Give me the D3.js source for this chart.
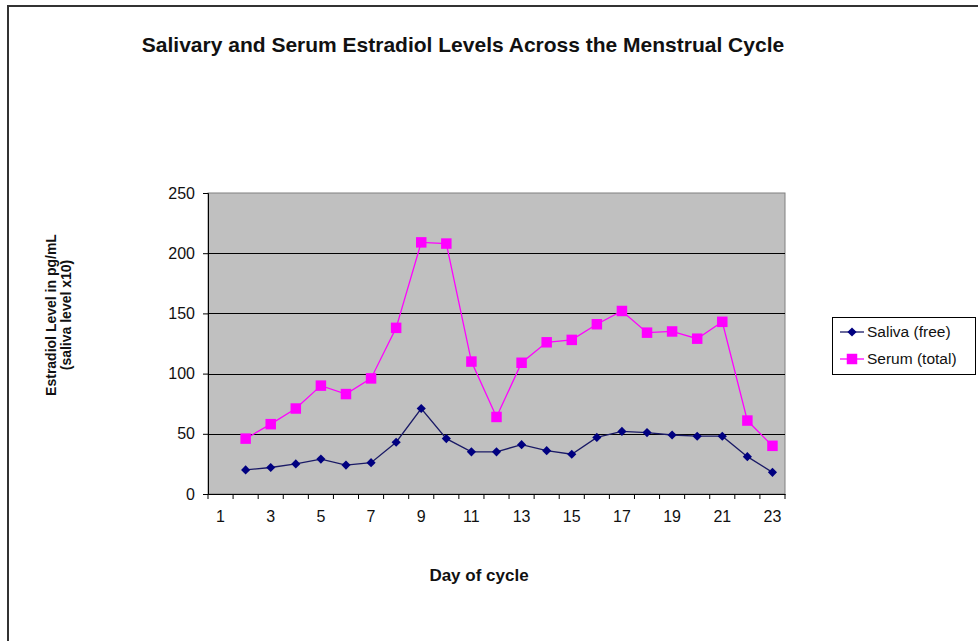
<!DOCTYPE html>
<html>
<head>
<meta charset="utf-8">
<script src="https://cdnjs.cloudflare.com/ajax/libs/d3/7.8.5/d3.min.js"></script>
<style>
  body { margin: 0; background: #fff; }
  svg { display: block; font-family: "Liberation Sans", Arial, sans-serif; }
</style>
</head>
<body>
<div id="chart"></div>
<script>
// data
var days = d3.range(1, 24);               // category axis 1..23
var dataDays = [2,3,4,5,6,7,8,9,10,11,12,13,14,15,16,17,18,19,20,21,22,23];
var saliva = [20,22,25,29,24,26,43,71,46,35,35,41,36,33,47,52,51,49,48,48,31,18];
var serum  = [46,58,71,90,83,96,138,209,208,110,64,109,126,128,141,152,134,135,129,143,61,40];
var yTicks = [0,50,100,150,200,250];

var W = 978, H = 641;
var plot = {left: 208, right: 785, top: 193, bottom: 494};

var svg = d3.select("#chart").append("svg")
  .attr("width", W).attr("height", H);

// outer chart frame (only top/left visible in reference)
svg.append("path")
  .attr("d", "M8,660 L8,6 L990,6")
  .attr("fill", "none").attr("stroke", "#333").attr("stroke-width", 2);

var x = d3.scaleBand().domain(days).range([plot.left, plot.right]).padding(0);
var y = d3.scaleLinear().domain([0, 250]).range([plot.bottom, plot.top]);

// plot area
svg.append("rect")
  .attr("x", plot.left).attr("y", plot.top)
  .attr("width", plot.right - plot.left).attr("height", plot.bottom - plot.top)
  .attr("fill", "#c0c0c0").attr("stroke", "#808080").attr("stroke-width", 1);

// gridlines
svg.append("g").selectAll("line")
  .data(yTicks.filter(function(d) { return d > 0 && d < 250; }))
  .enter().append("line")
  .attr("x1", plot.left).attr("x2", plot.right)
  .attr("y1", function(d) { return Math.round(y(d)) + 0.5; })
  .attr("y2", function(d) { return Math.round(y(d)) + 0.5; })
  .attr("stroke", "#000").attr("stroke-width", 1.2);

// y axis
var yAxis = svg.append("g")
  .attr("transform", "translate(" + plot.left + ",0)")
  .call(d3.axisLeft(y).tickValues(yTicks).tickSize(5).tickPadding(8));
yAxis.select(".domain").attr("stroke", "#000");
yAxis.selectAll("text").attr("font-size", 16).attr("fill", "#111")
  .attr("font-family", "Liberation Sans, Arial, sans-serif");

// x axis: labels centred on categories, ticks on boundaries
var xAxis = svg.append("g")
  .attr("transform", "translate(0," + plot.bottom + ")")
  .call(d3.axisBottom(x).tickSize(0).tickPadding(17)
    .tickFormat(function(d) { return d % 2 === 1 ? d : ""; }));
xAxis.select(".domain").attr("stroke", "#000");
xAxis.selectAll("text").attr("font-size", 16).attr("fill", "#111")
  .attr("font-family", "Liberation Sans, Arial, sans-serif");
xAxis.selectAll(".bound")
  .data(days.concat([24]))
  .enter().append("line")
  .attr("class", "bound")
  .attr("x1", function(d) { return d <= 23 ? x(d) : plot.right; })
  .attr("x2", function(d) { return d <= 23 ? x(d) : plot.right; })
  .attr("y1", 0).attr("y2", 5)
  .attr("stroke", "#000");

var cx = function(d) { return x(d) + x.bandwidth() / 2; };

// lines
var series = [
  {name: "Saliva (free)", values: saliva, color: "#000080", line: "#1a1a66", shape: d3.symbolSquare, size: 42, rot: 45},
  {name: "Serum (total)", values: serum, color: "#ff00ff", line: "#ff00ff", shape: d3.symbolSquare, size: 110, rot: 0}
];

var line = d3.line()
  .x(function(d, i) { return cx(dataDays[i]); })
  .y(function(d) { return y(d); });

series.forEach(function(s) {
  svg.append("path")
    .attr("d", line(s.values))
    .attr("fill", "none").attr("stroke", s.line).attr("stroke-width", 1.3);
  svg.append("g").selectAll("path")
    .data(s.values)
    .enter().append("path")
    .attr("d", d3.symbol().type(s.shape).size(s.size))
    .attr("transform", function(d, i) {
      return "translate(" + cx(dataDays[i]) + "," + y(d) + ") rotate(" + s.rot + ")";
    })
    .attr("fill", s.color);
});

// title
svg.append("text")
  .attr("x", 463).attr("y", 52)
  .attr("text-anchor", "middle")
  .attr("font-size", 21).attr("font-weight", "bold").attr("fill", "#111")
  .text("Salivary and Serum Estradiol Levels Across the Menstrual Cycle");

// axis titles
svg.append("text")
  .attr("x", 479).attr("y", 581)
  .attr("text-anchor", "middle")
  .attr("font-size", 17).attr("font-weight", "bold").attr("fill", "#111")
  .text("Day of cycle");

var yt = svg.append("text")
  .attr("transform", "translate(56,315) rotate(-90)")
  .attr("text-anchor", "middle")
  .attr("font-size", 14).attr("font-weight", "bold").attr("fill", "#111");
yt.append("tspan").attr("x", 0).attr("dy", 0).text("Estradiol Level in pg/mL");
yt.append("tspan").attr("x", 0).attr("dy", 15).text("(saliva level x10)");

// legend
var lg = svg.append("g");
lg.append("rect")
  .attr("x", 832.5).attr("y", 317.5).attr("width", 143).attr("height", 57)
  .attr("fill", "#fff").attr("stroke", "#000");
series.forEach(function(s, i) {
  var ly = 332 + i * 27;
  lg.append("line")
    .attr("x1", 840).attr("x2", 864).attr("y1", ly).attr("y2", ly)
    .attr("stroke", s.line).attr("stroke-width", 1.3);
  lg.append("path")
    .attr("d", d3.symbol().type(s.shape).size(s.size))
    .attr("transform", "translate(852," + ly + ") rotate(" + s.rot + ")")
    .attr("fill", s.color);
  lg.append("text")
    .attr("x", 867).attr("y", ly + 5)
    .attr("font-size", 15.5).attr("fill", "#111")
    .text(s.name);
});
</script>
</body>
</html>
